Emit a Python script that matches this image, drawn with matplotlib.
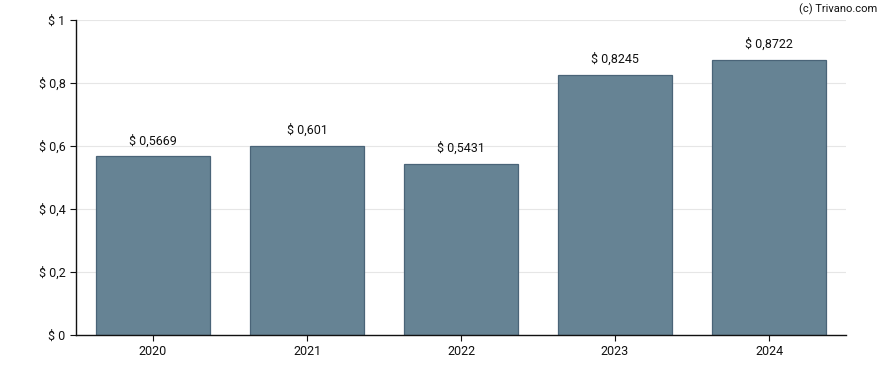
import matplotlib
matplotlib.use("Agg")
import matplotlib.pyplot as plt

years = ["2020", "2021", "2022", "2023", "2024"]
values = [0.5669, 0.601, 0.5431, 0.8245, 0.8722]
labels = ["$ 0,5669", "$ 0,601", "$ 0,5431", "$ 0,8245", "$ 0,8722"]
yticks = [0, 0.2, 0.4, 0.6, 0.8, 1.0]
yticklabels = ["$ 0", "$ 0,2", "$ 0,4", "$ 0,6", "$ 0,8", "$ 1"]

plt.rcParams['font.family'] = ['Roboto', 'DejaVu Sans']

fig = plt.figure(figsize=(8.88, 3.7), dpi=100)
ax = fig.add_axes([76/888, 35/370, 770/888, 315/370])

x = list(range(len(years)))
ax.bar(x, values, width=0.745, color="#668394", edgecolor="#4a6478", linewidth=0.9, zorder=2)
for xi, v, lab in zip(x, values, labels):
    ax.annotate(lab, (xi, v), xytext=(0, 6.5), textcoords="offset points",
                ha="center", va="bottom", fontsize=9, color="#111111")

ax.set_xlim(-0.5, 4.5)
ax.set_ylim(0, 1)
ax.set_xticks(x)
ax.set_xticklabels(years)
ax.set_yticks(yticks)
ax.set_yticklabels(yticklabels)
ax.tick_params(axis="both", labelsize=9, colors="#111111", length=4, width=0.8)
ax.grid(axis="y", color="#e6e6e6", linewidth=0.8, zorder=0)
ax.set_axisbelow(True)
for s in ["top", "right"]:
    ax.spines[s].set_visible(False)
for s in ["left", "bottom"]:
    ax.spines[s].set_linewidth(1.0)
    ax.spines[s].set_color("#111111")

fig.text(877/888, 1 - 9/370, "(c) Trivano.com", ha="right", va="center", fontsize=8, color="#111111")

fig.savefig("out.png", dpi=100)
